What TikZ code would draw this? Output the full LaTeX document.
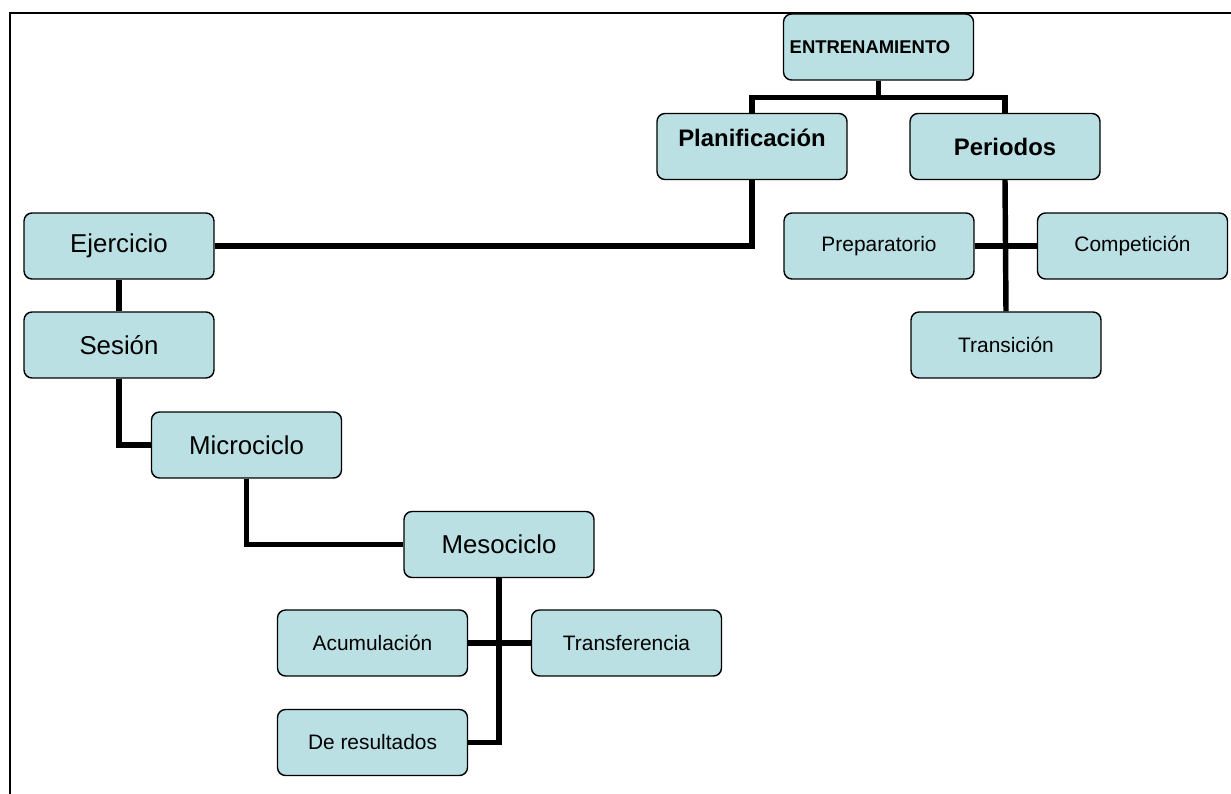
\documentclass[tikz,border=0pt]{standalone}
\usepackage{fontspec}
\setmainfont{Liberation Sans}
\usepackage{tikz}
\definecolor{boxfill}{RGB}{186,224,228}
\def\bigtxt{\fontsize{14.7}{17}\selectfont}
\def\smalltxt{\fontsize{11.9}{14}\selectfont}
\def\boldtxt{\fontsize{13.6}{16}\selectfont\bfseries}
\tikzset{
	box/.style={draw=black, line width=0.8pt, fill=boxfill, rounded corners=0.16cm,
		minimum width=3.8cm, minimum height=1.32cm, inner sep=0pt},
	conn/.style={line width=3.1pt, black},
}

\begin{document}
\begin{tikzpicture}[x=0.02cm, y=-0.02cm]
				\useasboundingbox (0,0) rectangle (1231,794);
				\draw[line width=1.1pt] (10,794) -- (10,13) -- (1231,13);
				
				% top of the tree
				\node[box] (ent) at (878.5,47) {};
				\node at (870,47) {\fontsize{10.5}{12}\selectfont\bfseries ENTRENAMIENTO};
				\node[box] (plan) at (752,146.5) {};
				\node at (752,138) {\boldtxt Planificación};
				\node[box] (peri) at (1005,146.5) {\boldtxt Periodos};
				
				% periods
				\node[box] (prep) at (879,246) {\smalltxt Preparatorio};
				\node[box] (comp) at (1132.5,246) {\smalltxt Competición};
				\node[box] (tran) at (1006,345) {\smalltxt Transición};
				
				% left chain
				\node[box] (ejer) at (119,246) {\bigtxt Ejercicio};
				\node[box] (sesi) at (119,345) {\bigtxt Sesión};
				\node[box] (micro) at (246.5,445) {\bigtxt Microciclo};
				\node[box] (meso) at (499,544.5) {\bigtxt Mesociclo};
				
				% mesocycle types
				\node[box] (acum) at (372.5,643) {\smalltxt Acumulación};
				\node[box] (transf) at (626.5,643) {\smalltxt Transferencia};
				\node[box] (deres) at (372.5,742.5) {\smalltxt De resultados};
				
				\draw[conn] (ent.south) -- ++(0,17) -| (plan.north);
				\draw[conn] (ent.south) -- ++(0,17) -| (peri.north);
				\draw[conn] (plan.south) |- (ejer.east);
				\draw[conn] (peri.south) -- (tran.north);
				\draw[conn] (prep.east) -- (comp.west);
				\draw[conn] (ejer.south) -- (sesi.north);
				\draw[conn] (sesi.south) |- (micro.west);
				\draw[conn] (micro.south) |- (meso.west);
				\draw[conn] (meso.south) |- (deres.east);
				\draw[conn] (acum.east) -- (transf.west);
			\end{tikzpicture}
\end{document}
